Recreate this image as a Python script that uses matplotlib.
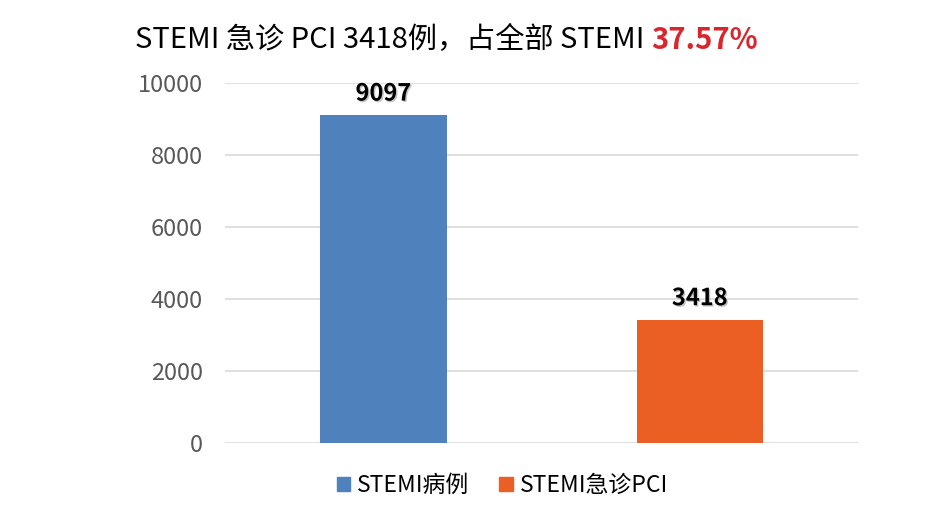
import matplotlib
matplotlib.use("Agg")
import matplotlib.pyplot as plt
from matplotlib.patches import Patch
import matplotlib.patheffects as pe

plt.rcParams['font.family'] = ['Noto Sans CJK SC', 'DejaVu Sans']

categories = ["STEMI病例", "STEMI急诊PCI"]
values = [9097, 3418]
colors = ["#4f81bd", "#eb5f24"]
yticks = [0, 2000, 4000, 6000, 8000, 10000]

fig = plt.figure(figsize=(9.46, 5.14), dpi=100)
ax = fig.add_axes([0.238, 0.138, 0.669, 0.701])

x = list(range(len(categories)))
bars = ax.bar(x, values, width=0.4, color=colors, zorder=3)
ax.set_xlim(-0.5, 1.5)
ax.set_ylim(0, 10000)
ax.set_yticks(yticks)
ax.set_yticklabels([str(t) for t in yticks], fontsize=17, color="#595959")
ax.set_xticks([])
ax.grid(axis="y", color="#d9d9d9", linewidth=1.2, zorder=0)
for s in ax.spines.values():
    s.set_visible(False)
ax.tick_params(axis="y", length=0, pad=16)

for xi, v in zip(x, values):
    ax.annotate(str(v), (xi, v), xytext=(0, 7), textcoords="offset points",
                ha="center", va="bottom", fontsize=17, fontweight="bold", color="black",
                path_effects=[pe.withSimplePatchShadow(offset=(1, -1), shadow_rgbFace="#888888", alpha=0.5)])

# title
t1 = fig.text(0.143, 0.922, "STEMI 急诊 PCI 3418例，占全部 STEMI ", fontsize=21,
              color="black", ha="left", va="center")
fig.canvas.draw()
bb = t1.get_window_extent()
x_end = bb.x1 / fig.bbox.width
fig.text(x_end, 0.922, "37.57%", fontsize=21, color="#d9262e", fontweight="bold",
         ha="left", va="center")

handles = [Patch(color=c) for c in colors]
fig.legend(handles, categories, loc="center", bbox_to_anchor=(0.531, 0.055), ncol=2,
           frameon=False, fontsize=16.5, handlelength=0.6, handleheight=0.6,
           columnspacing=1.3, handletextpad=0.3)

fig.savefig("out.png", dpi=100)
